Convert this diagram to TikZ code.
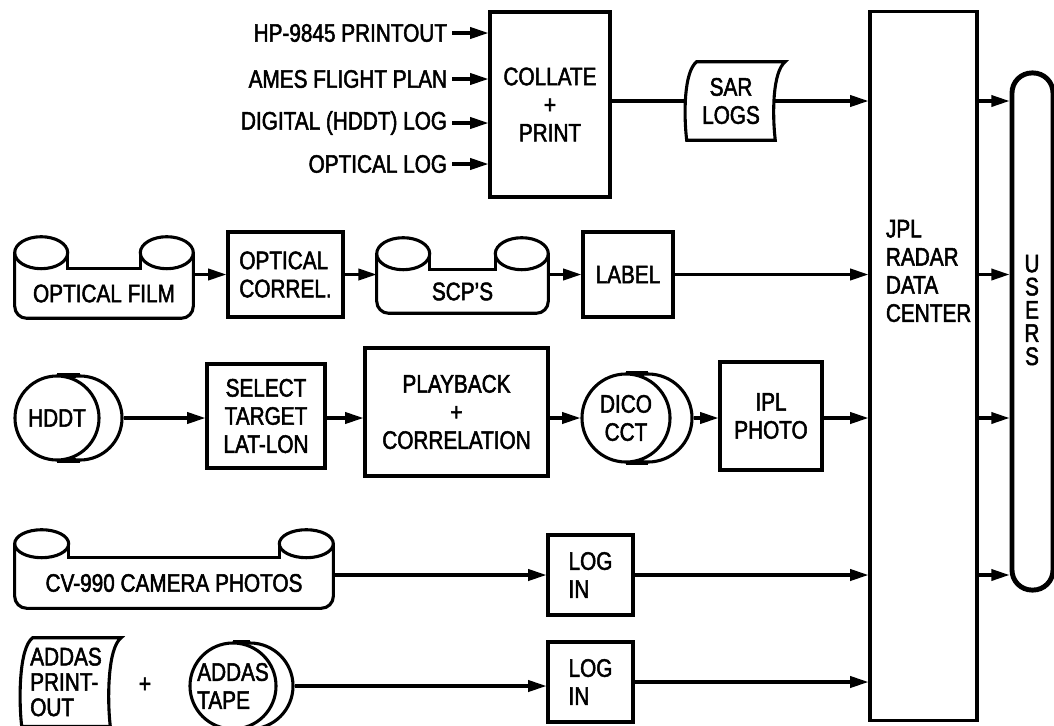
\documentclass[tikz,border=0pt]{standalone}
\usepackage{fontspec}
\setmainfont[FakeStretch=0.82, FakeBold=2]{Liberation Sans}
\usetikzlibrary{positioning,calc,arrows.meta}

% film scroll round a node: #1 node, #2 roll width, #3 roll height (px)
\newcommand{\filmscroll}[3]{%
  \draw[line] ($(#1.north west)+(#2/2,-#3/2)$) ellipse [x radius={#2*0.0125cm}, y radius={#3*0.0125cm}];
  \draw[line] ($(#1.north east)+(-#2/2,-#3/2)$) ellipse [x radius={#2*0.0125cm}, y radius={#3*0.0125cm}];
  \draw[line, rounded corners=0.3cm] ($(#1.north west)+(0,-#3/2)$) |- (#1.south) -| ($(#1.north east)+(0,-#3/2)$);
  \draw[line] ($(#1.north west)+(#2,-#3/2)$) |- ($(#1.north east)+(-#2,0)$) -- ++(0,-#3/2);
}
% curled sheet round a node: #1 node, #2 top shift (px)
\newcommand{\sheet}[2]{%
  \draw[line] ($(#1.north west)+(#2,0)$) -- ($(#1.north east)+(#2,0)$)
    .. controls +(-#2-3,10) and +(-3,-25) .. (#1.south east)
    -- (#1.south west)
    .. controls +(-3,-25) and +(-#2-3,10) .. ($(#1.north west)+(#2,0)$) -- cycle;
}

\begin{document}
\begin{tikzpicture}[x=0.025cm, y=-0.025cm,
  font=\fontsize{18}{20}\selectfont,
  line/.style={line width=2.2pt},
  box/.style={draw, line, align=center, inner sep=2pt},
  arr/.style={->, line width=2.2pt},
  >={Triangle[length=13pt,width=8pt]},
  tape/.style={draw, line, circle, fill=white, align=center, inner sep=0pt, minimum size=#1}
]
\useasboundingbox (0,0) rectangle (1054,725);

% inputs to the SAR logs
\node[anchor=east] (hp) at (452,33) {HP-9845 PRINTOUT};
\node[anchor=east] (ames) at (452,79) {AMES FLIGHT PLAN};
\node[anchor=east] (diglog) at (452,123) {DIGITAL (HDDT) LOG};
\node[anchor=east] (optlog) at (452,164) {OPTICAL LOG};
\node[box, minimum width=3cm, minimum height=4.625cm] (collate) at (550,104.5) {COLLATE\\+\\PRINT};
\node[align=center, inner sep=0pt, minimum width=2.2cm, minimum height=1.95cm] (sar) at (731,101) {SAR\\LOGS};
\sheet{sar}{10}

% data center and users
\node[box, minimum width=2.675cm, minimum height=17.7cm] (jpl) at (923.5,366) {};
\node[anchor=west, align=left] (jpltxt) at (881,271) {JPL\\RADAR\\DATA\\CENTER};
\node[draw, line width=3.5pt, rounded corners=0.5cm, minimum width=1.025cm, minimum height=12.925cm] (users) at (1032.5,331.5) {};
\node[align=center, font=\fontsize{18}{16.5}\selectfont] (userstxt) at (1032,310) {U\\S\\E\\R\\S};

% optical film row
\node[inner sep=0pt, minimum width=4.45cm, minimum height=1.225cm] (film) at (104,293.5) {OPTICAL FILM};
\filmscroll{film}{53}{32}
\node[box, align=left, minimum width=2.875cm, minimum height=2.125cm] (correl) at (285.5,274.5) {OPTICAL\\CORREL.};
\node[inner sep=0pt, minimum width=4.275cm, minimum height=1.075cm] (scp) at (462.5,291.5) {SCP'S};
\filmscroll{scp}{53}{32}
\node[box, minimum width=2.25cm, minimum height=2.125cm] (label) at (628,274.5) {LABEL};

% HDDT row
\node[tape=2.1cm] (hddtb) at (80,418) {};
\node[tape=2.1cm] (hddt) at (57,418) {HDDT};
\draw[line] (hddt.north) -- (hddtb.north) (hddt.south) -- (hddtb.south);
\node[box, minimum width=2.95cm, minimum height=2.6cm] (select) at (266,416) {SELECT\\TARGET\\LAT-LON};
\node[box, minimum width=4.575cm, minimum height=3.2cm] (playback) at (456.5,412) {PLAYBACK\\+\\CORRELATION};
\node[tape=2.2cm] (dicob) at (648,418) {};
\node[tape=2.2cm] (dico) at (626,418) {DICO\\CCT};
\draw[line] (dico.north) -- (dicob.north) (dico.south) -- (dicob.south);
\node[box, minimum width=2.55cm, minimum height=2.7cm] (ipl) at (771,416) {IPL\\PHOTO};

% camera photos row
\node[inner sep=0pt, minimum width=7.95cm, minimum height=1.25cm] (cv) at (174,583) {CV-990 CAMERA PHOTOS};
\filmscroll{cv}{54}{28}
\node[box, align=left, minimum width=2.125cm, minimum height=2cm] (loga) at (590.5,575) {LOG\\IN};

% ADDAS row
\node[align=left, inner sep=0pt, minimum width=2.2cm, minimum height=2.2cm, font=\fontsize{18}{18}\selectfont] (addasp) at (66,682) {ADDAS\\PRINT-\\OUT};
\sheet{addasp}{11}
\node (plus) at (145,685) {+};
\node[tape=2.15cm] (addastb) at (250,686) {};
\node[tape=2.15cm, align=left] (addast) at (233,686) {ADDAS\\TAPE};
\draw[line] (addast.north) -- (addastb.north) (addast.south) -- (addastb.south);
\node[box, align=left, minimum width=2.125cm, minimum height=2cm] (logb) at (590.5,682) {LOG\\IN};

% connectors
\foreach \src in {hp,ames,diglog,optlog}
  \draw[arr] (\src) -- (collate.west |- \src);
\draw[line] (collate.east |- sar) -- (sar);
\draw[arr] (sar) -- (jpl.west |- sar);
\draw[arr] (film.east |- correl) -- (correl);
\draw[arr] (correl) -- (scp.west |- correl);
\draw[arr] (scp.east |- label) -- (label);
\draw[arr] (label) -- (jpl.west |- label);
\draw[arr] (hddtb) -- (select.west |- hddtb);
\draw[arr] (select.east |- hddtb) -- (playback.west |- hddtb);
\draw[arr] (playback.east |- dico) -- (dico);
\draw[arr] (dicob) -- (ipl.west |- dicob);
\draw[arr] (ipl.east |- dicob) -- (jpl.west |- dicob);
\draw[arr] (cv.east |- loga) -- (loga);
\draw[arr] (loga) -- (jpl.west |- loga);
\draw[arr] (addastb) -- (logb.west |- addastb);
\draw[arr] (logb) -- (jpl.west |- logb);
\foreach \row in {sar,label,dicob,loga}
  \draw[arr] (jpl.east |- \row) -- (users.west |- \row);
\end{tikzpicture}
\end{document}
